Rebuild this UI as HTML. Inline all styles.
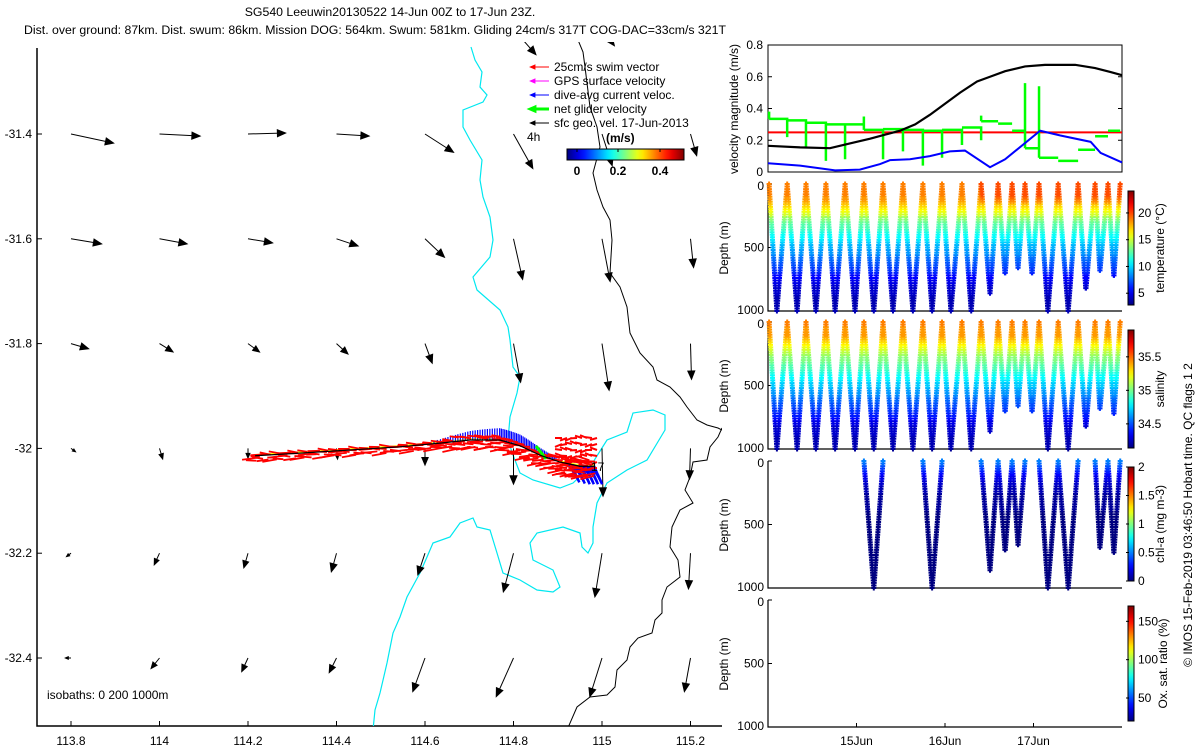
<!DOCTYPE html>
<html><head><meta charset="utf-8"><style>
html,body{margin:0;padding:0;background:#fff}
svg{display:block;font-family:"Liberation Sans",sans-serif}
text{font-size:12px;fill:#000}
</style></head><body>
<svg id="s" width="1200" height="750" viewBox="0 0 1200 750" xmlns="http://www.w3.org/2000/svg">
<defs>
<clipPath id="mapclip"><rect x="37" y="42" width="685" height="684"/></clipPath>
<linearGradient id="jetH" x1="0" x2="1" y1="0" y2="0"></linearGradient>
<linearGradient id="jetV" x1="0" x2="0" y1="1" y2="0"></linearGradient>
</defs>
<text x="390" y="16" text-anchor="middle" style="font-size:12.3px">SG540 Leeuwin20130522 14-Jun 00Z to 17-Jun 23Z.</text>
<text x="375" y="34" text-anchor="middle" style="font-size:12.3px">Dist. over ground: 87km. Dist. swum: 86km. Mission DOG: 564km. Swum: 581km. Gliding 24cm/s 317T COG-DAC=33cm/s 321T</text>
<g id="map"></g>
<g id="right"></g>
</svg>
<script>
// ---------- data ----------
const mapLonTicks=[113.8,114,114.2,114.4,114.6,114.8,115,115.2];
const mapLatTicks=[-31.4,-31.6,-31.8,-32,-32.2,-32.4];
const geoLats=[-31.2,-31.4,-31.6,-31.8,-32,-32.2,-32.4];
const geoU=[[0,0,0,0,0,0.22,0.12,0],[0.42,0.40,0.37,0.32,0.28,0.19,0.10,0.06],[0.30,0.27,0.24,0.21,0.19,0.09,0.08,0.03],[0.17,0.13,0.11,0.11,0.07,0.07,0.07,0.01],[0.04,0.03,0,0.01,0,0,0.01,-0.01],[-0.04,-0.05,-0.04,-0.05,-0.07,-0.10,-0.07,-0.02],[-0.05,-0.08,-0.06,-0.07,-0.12,-0.17,-0.12,-0.06]];
const geoV=[[0,0,0,0,0,-0.25,-0.16,0],[-0.09,-0.02,0.01,-0.02,-0.18,-0.34,-0.31,-0.21],[-0.05,-0.05,-0.04,-0.07,-0.18,-0.40,-0.42,-0.28],[-0.05,-0.08,-0.08,-0.10,-0.19,-0.38,-0.46,-0.35],[-0.03,-0.10,-0.09,-0.10,-0.16,-0.35,-0.47,-0.30],[-0.03,-0.11,-0.14,-0.18,-0.21,-0.38,-0.43,-0.35],[0,-0.10,-0.13,-0.14,-0.33,-0.38,-0.38,-0.33]];
const trackLon=[114.216,114.318,114.43,114.543,114.634,114.702,114.769,114.815,114.86,114.905,114.95,114.984];
const trackLat=[-32.014,-32.009,-32.003,-31.997,-31.990,-31.984,-31.984,-31.995,-32.013,-32.026,-32.034,-32.034];
// dive timing (hours since 14-Jun 00Z)
const surfaceHours=[0.3,5.2,10.3,15.7,20.9,26.0,31.2,36.6,42.0,47.2,52.6,57.8,62.4,66.2,69.7,73.5,78.7,84.1,88.7,92.2,95.5];
const bottomHours=[2.4,7.9,13.0,18.2,23.6,28.7,33.9,39.3,44.5,49.6,55.1,60.2,64.3,67.8,71.6,75.9,81.4,86.2,90.0,93.8];
const bottomDepths=[1000,1000,1000,1000,1000,1000,1000,1000,1000,1000,1000,861,717,664,717,1000,1000,835,690,730];
const chlDives=[5,8,11,12,13,15,16,18,19];
const profDepth=[0,100,200,300,400,500,600,700,800,900,1000];
const profTemp=[19,18.5,16,13,11,9,7.5,6,4.5,4,3.8];
const profSal=[35.45,35.4,35.2,35.0,34.85,34.7,34.55,34.45,34.3,34.25,34.2];
const profChl=[0.5,0.25,0.1,0.05,0.02,0.01,0,0,0,0,0];
// velocity panel
const geoVelHours=[0,8.7,16.8,22.2,27.7,31.7,35.8,39.9,43.9,48,52.1,56.7,60.2,64.3,69.7,75.1,83.3,88.7,92.8,96];
const geoVelMag=[0.165,0.155,0.15,0.18,0.21,0.235,0.26,0.30,0.36,0.43,0.50,0.57,0.60,0.635,0.665,0.675,0.675,0.655,0.63,0.61];
const daVelHours=[0,8.7,18.2,24.9,30.4,33.1,38.5,43.9,49.3,53.4,60.2,64.3,73.8,79.3,87.5,90.2,96];
const daVelMag=[0.055,0.04,0.01,0.015,0.05,0.075,0.08,0.10,0.13,0.135,0.03,0.08,0.26,0.23,0.19,0.12,0.06];
const swimSpeed=0.25;
const netLevel=[0.335,0.325,0.31,0.30,0.30,0.265,0.27,0.265,0.26,0.265,0.28,0.32,0.305,0.26,0.15,0.09,0.07,0.14,0.225,0.26];
const netDip=[0.22,0.16,0.07,0.08,null,0.08,0.13,0.04,0.09,0.17,0.2,null,null,null,null,null,null,null,null,null];
const netSpike=[0.38,null,null,null,null,0.35,null,null,null,null,null,0.355,null,null,0.56,0.54,null,null,null,null];
const velTicks=[0,0.2,0.4,0.6,0.8];
const depthTicks=[0,500,1000];
const dayTicks=[{h:24,l:"15Jun"},{h:48,l:"16Jun"},{h:72,l:"17Jun"}];

// ---------- helpers ----------
const NS="http://www.w3.org/2000/svg";
function mk(tag,attrs,parent){const e=document.createElementNS(NS,tag);for(const k in attrs)e.setAttribute(k,attrs[k]);parent.appendChild(e);return e;}
function jet(v){v=Math.max(0,Math.min(1,v));const c=x=>Math.round(255*Math.max(0,Math.min(1,x)));return `rgb(${c(1.5-Math.abs(4*v-3))},${c(1.5-Math.abs(4*v-2))},${c(1.5-Math.abs(4*v-1))})`;}
['jetH','jetV'].forEach(id=>{const g=document.getElementById(id);for(let i=0;i<=20;i++){mk('stop',{offset:i/20,'stop-color':jet(i/20)},g);}});
function interp(xs,ys,x){if(x<=xs[0])return ys[0];for(let i=1;i<xs.length;i++){if(x<=xs[i]){const f=(x-xs[i-1])/(xs[i]-xs[i-1]);return ys[i-1]+f*(ys[i]-ys[i-1]);}}return ys[ys.length-1];}

// ---------- map ----------
const map=document.getElementById('map');
const lonX=lon=>71+(lon-113.8)*442.5;
const latY=lat=>134+(-31.4-lat)*524;
const mapAxes=mk('path',{d:'M37 48 V726 H722',fill:'none',stroke:'#000','stroke-width':1.5},map);


mapLonTicks.forEach(v=>{const x=lonX(v);mk('line',{x1:x,x2:x,y1:726,y2:721,stroke:'#000'},map);
 const t=mk('text',{x:x,y:745,'text-anchor':'middle'},map);t.textContent=String(v);
 
 });
mapLatTicks.forEach(v=>{const y=latY(v);mk('line',{x1:37,x2:42,y1:y,y2:y,stroke:'#000'},map);
 const t=mk('text',{x:32,y:y+4,'text-anchor':'end'},map);t.textContent=String(v);
 
 });
const mc=mk('g',{'clip-path':'url(#mapclip)'},map);
// isobaths (geographic background)
const iso200='M471,47 475,60 482,72 480,87 487,95 483,102 463,110 463,127 470,140 482,160 480,180 483,197 490,217 493,240 490,257 473,277 477,290 500,310 508,327 510,340 513,367 520,377 517,393 510,417 508,440 513,455 520,473 533,480 560,488 573,483 590,467 607,440 627,432 633,413 653,410 665,415 665,430 647,460 627,470 607,483 597,503 593,527 593,543 588,553 582,547 580,533 563,527 537,533 530,543 533,560 553,570 560,587 553,592 537,590 520,580 503,573 497,553 490,530 477,527 473,518 460,523 450,537 433,543 427,557 420,573 407,597 400,617 393,633 387,663 380,693 375,710 373,730';
const iso1000='M578,40 583,52 585,67 590,107 597,127 600,147 593,173 597,190 603,207 610,220 612,240 610,273 620,287 627,307 630,333 640,353 653,367 657,380 670,387 680,397 687,407 697,420 707,425 718,428 722,430 M722,428 718,437 710,447 707,460 693,462 690,477 685,490 693,503 680,510 672,527 670,547 678,560 680,577 667,587 662,600 662,613 655,620 652,633 638,638 630,647 627,660 617,670 615,687 607,695 590,697 577,707 567,730';
const i2=mk('path',{d:iso200,fill:'none',stroke:'#00e8f0','stroke-width':1.2},mc);


const i1=mk('path',{d:iso1000,fill:'none',stroke:'#000','stroke-width':1},mc);


// geostrophic arrows
function arrow(g,x1,y1,x2,y2,col,w,hs){mk('line',{x1,y1,x2,y2,stroke:col,'stroke-width':w},g);
 const a=Math.atan2(y2-y1,x2-x1),L=Math.hypot(x2-x1,y2-y1);if(L<2)return;const h=Math.min(hs,L*0.45);
 mk('path',{d:`M${x2-h*Math.cos(a-0.4)},${y2-h*Math.sin(a-0.4)} L${x2},${y2} L${x2-h*Math.cos(a+0.4)},${y2-h*Math.sin(a+0.4)} Z`,fill:col,stroke:col,'stroke-width':w+0.5},g);}
const ga=mk('g',{},mc);


geoLats.forEach((lat,r)=>mapLonTicks.forEach((lon,c)=>{const u=geoU[r][c],v=geoV[r][c];if(u===0&&v===0)return;
 const x=lonX(lon),y=latY(lat);arrow(ga,x,y,x+u*100,y-v*100,'#000',1,8);}));
// glider track
const tg=mk('g',{},mc);


const tpts=trackLon.map((l,i)=>[lonX(l),latY(trackLat[i])]);
function along(f){const n=tpts.length-1,p=f*n,i=Math.min(n-1,Math.floor(p)),t=p-i;return[tpts[i][0]+t*(tpts[i+1][0]-tpts[i][0]),tpts[i][1]+t*(tpts[i+1][1]-tpts[i][1])];}
mk('polyline',{points:tpts.map(p=>p[0]+','+(p[1]-1)).join(' '),fill:'none',stroke:'#ff0','stroke-width':1.5},tg);
for(let k=0;k<=60;k++){const f=0.35+0.45*k/60;const[x,y]=along(f);const h=3+9*Math.sin(Math.PI*(k/60));
 mk('line',{x1:x,y1:y,x2:x,y2:y-h,stroke:'#00f','stroke-width':1.2},tg);}
for(let k=0;k<30;k++){const f=0.85+0.15*k/30;const[x,y]=along(f);mk('line',{x1:x,y1:y,x2:x+8,y2:y+10+(k%5)*2,stroke:'#00f','stroke-width':2.5},tg);}
for(let k=0;k<=200;k++){const f=k/200;const[x,y]=along(f);const s=Math.sin(k*1.7),c2=Math.cos(k*2.3);
 const sp=f>0.8?10:(f>0.4?7:4);
 mk('line',{x1:x+2*c2,y1:y+sp*s*0.8+2,x2:x-9-4*Math.abs(c2),y2:y+sp*s+2*c2+2,stroke:'#f00','stroke-width':1.8},tg);}
for(let k=0;k<48;k++){const x=562+(k%8)*5,y=438+Math.floor(k/8)*6;mk('line',{x1:x,y1:y,x2:x-7,y2:y+3*Math.sin(k),stroke:'#f00','stroke-width':2},tg);}
mk('line',{x1:536,y1:446,x2:546,y2:459,stroke:'#0f0','stroke-width':3},tg);
mk('polyline',{points:tpts.map(p=>p.join(',')).join(' '),fill:'none',stroke:'#000','stroke-width':1.2},tg);
const l17=mk('text',{x:591,y:471},tg);l17.textContent='17';


// legend
const lg=mk('g',{},map);


const legItems=[['25cm/s swim vector','#f00',1],['GPS surface velocity','#f0f',1],['dive-avg current veloc.','#00f',1],['net glider velocity','#0f0',3],['sfc geo. vel. 17-Jun-2013','#000',1]];
legItems.forEach((it,i)=>{const y=67+i*14;arrow(lg,549,y,531,y,it[1],it[2],4);
 const t=mk('text',{x:554,y:y+4},lg);t.textContent=it[0];
 
 });
const t4=mk('text',{x:527,y:141},lg);t4.textContent='4h';
const tms=mk('text',{x:606,y:142,'font-weight':'bold','font-size':'13'},lg);tms.textContent='(m/s)';
mk('rect',{x:567,y:149,width:117,height:11,fill:'url(#jetH)',stroke:'#000','stroke-width':1},lg);
[[0,577],[0.2,618],[0.4,660]].forEach(a=>{mk('line',{x1:a[1],x2:a[1],y1:149,y2:152,stroke:'#000'},lg);
 const t=mk('text',{x:a[1],y:175,'text-anchor':'middle','font-weight':'bold'},lg);t.textContent=String(a[0]);});
const iso=mk('text',{x:47,y:699},map);iso.textContent='isobaths: 0   200  1000m';



// ---------- right panels ----------
const R=document.getElementById('right');
const X0=768,X1=1122;const hx=h=>X0+h*(X1-X0)/96;
const vy=v=>172-v*127/0.8;
const vp=mk('g',{},R);


mk('rect',{x:X0,y:45,width:X1-X0,height:127,fill:'none',stroke:'#000'},vp);
velTicks.forEach(v=>{const y=vy(v);mk('line',{x1:X0,x2:X0+4,y1:y,y2:y,stroke:'#000'},vp);mk('line',{x1:X1,x2:X1-4,y1:y,y2:y,stroke:'#000'},vp);
 const t=mk('text',{x:763,y:y+4,'text-anchor':'end'},vp);t.textContent=String(v);
 
 });
const vl=mk('text',{transform:'translate(738,109) rotate(-90)','text-anchor':'middle'},vp);vl.textContent='velocity magnitude (m/s)';


const redL=mk('line',{x1:X0,x2:X1,y1:vy(swimSpeed),y2:vy(swimSpeed),stroke:'#f00','stroke-width':2},vp);


let gd='';netLevel.forEach((lv,i)=>{const xa=hx(surfaceHours[i]),xb=hx(surfaceHours[i+1]);
 if(netSpike[i]!==null)gd+=`M${xa},${vy(netSpike[i])} V${vy(lv)} `;
 gd+=`M${xa},${vy(lv)} H${xb} `;if(netDip[i]!==null)gd+=`V${vy(netDip[i])} `;});
const gl=mk('path',{d:gd,fill:'none',stroke:'#0f0','stroke-width':2.5},vp);


const bl=mk('polyline',{points:geoVelHours.map((h,i)=>hx(h)+','+vy(geoVelMag[i])).join(' '),fill:'none',stroke:'#000','stroke-width':2.2},vp);


const dl=mk('polyline',{points:daVelHours.map((h,i)=>hx(h)+','+vy(daVelMag[i])).join(' '),fill:'none',stroke:'#00f','stroke-width':2},vp);



const panels=[
 {top:184,name:'temperature-panel',prof:profTemp,lo:2.8,hi:24.1,dives:null,cb:[191,305],cbTicks:[5,10,15,20],label:'temperature (°C)'},
 {top:322,name:'salinity-panel',prof:profSal,lo:34.14,hi:35.9,dives:null,cb:[330,448],cbTicks:[34.5,35,35.5],label:'salinity'},
 {top:461,name:'chlorophyll-panel',prof:profChl,lo:0,hi:2,dives:chlDives,cb:[467,581],cbTicks:[0,0.5,1,1.5,2],label:'chl-a (mg m-3)'},
 {top:600,name:'oxygen-panel',prof:null,lo:20,hi:170,dives:[],cb:[606,721],cbTicks:[50,100,150],label:'Ox. sat. ratio (%)'}];
panels.forEach((P,pi)=>{const g=mk('g',{},R);
 
 
 const dy=d=>P.top+d*127/1000;
 mk('path',{d:`M${X0} ${P.top} V${dy(1000)} H${X1}`,fill:'none',stroke:'#000','stroke-width':1.2},g);
 depthTicks.forEach(d=>{mk('line',{x1:X0,x2:X0+4,y1:dy(d),y2:dy(d),stroke:'#000'},g);
  const t=mk('text',{x:764,y:dy(d)+(d===0?6:d===1000?3:4),'text-anchor':'end'},g);t.textContent=String(d);
  
  });
 const yl=mk('text',{transform:`translate(728,${P.top+64}) rotate(-90)`,'text-anchor':'middle'},g);yl.textContent='Depth (m)';
 
 
 if(pi===3){dayTicks.forEach(d=>{const x=hx(d.h);mk('line',{x1:x,x2:x,y1:dy(1000),y2:dy(1000)-4,stroke:'#000'},g);
  const t=mk('text',{x:x,y:745,'text-anchor':'middle'},g);t.textContent=d.l;
  
  });}
 if(P.prof){const bins={};
  bottomHours.forEach((bh,i)=>{if(P.dives&&P.dives.indexOf(i)<0)return;const D=bottomDepths[i];
   [[surfaceHours[i],bh],[surfaceHours[i+1],bh]].forEach(seg=>{for(let d=0;d<=D;d+=20){const h=seg[0]+(seg[1]-seg[0])*d/D;
    let val=interp(profDepth,P.prof,d);if(i>=11&&pi===0&&d<150)val+=1;
    const b=Math.round(Math.max(0,Math.min(1,(val-P.lo)/(P.hi-P.lo)))*40);
    const x=hx(h),y=dy(d);bins[b]=(bins[b]||'')+`M${(x-2.5).toFixed(1)},${y.toFixed(1)}h5M${x.toFixed(1)},${(y-2.5).toFixed(1)}v5`;}});});
  const pg=mk('g',{},g);
  
  
  for(const b in bins)mk('path',{d:bins[b],stroke:jet(b/40),'stroke-width':2,fill:'none'},pg);}
 const cb=mk('rect',{x:1128,y:P.cb[0],width:6,height:P.cb[1]-P.cb[0],fill:'url(#jetV)',stroke:'#000','stroke-width':1},g);
 
 
 P.cbTicks.forEach(v=>{const y=P.cb[1]-(v-P.lo)/(P.hi-P.lo)*(P.cb[1]-P.cb[0]);
  mk('line',{x1:1126,x2:1129,y1:y,y2:y,stroke:'#000'},g);
  const t=mk('text',{x:1138,y:y+4},g);t.textContent=String(v);
  
  });
 const cl=mk('text',{transform:`translate(${pi===3?1167:1164},${(P.cb[0]+P.cb[1])/2}) rotate(-90)`,'text-anchor':'middle'},g);cl.textContent=P.label;
 
 
});
const cr=mk('text',{transform:'translate(1192,515) rotate(-90)','text-anchor':'middle'},R);cr.textContent='© IMOS 15-Feb-2019 03:46:50 Hobart time. QC flags 1  2';


</script>
</body></html>
